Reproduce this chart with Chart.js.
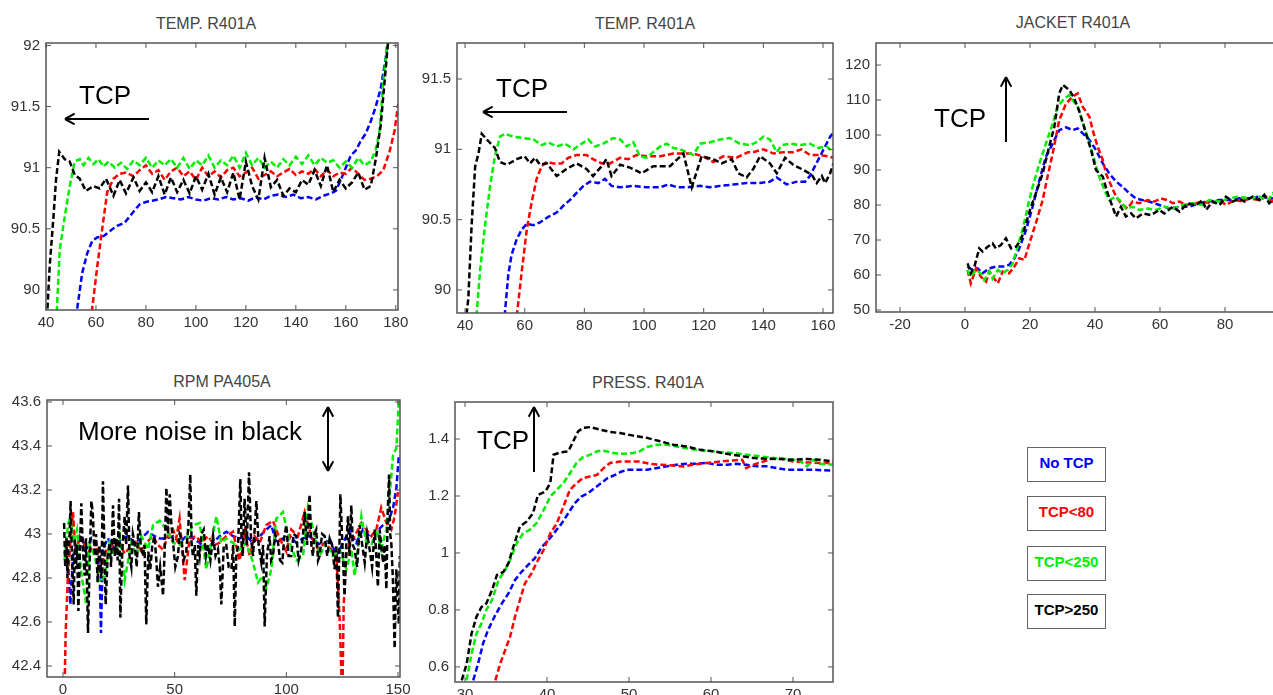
<!DOCTYPE html>
<html>
<head>
<meta charset="utf-8">
<script src="https://cdn.jsdelivr.net/npm/chart.js@4.4.1/dist/chart.umd.min.js"></script>
<style>
  html, body { margin: 0; padding: 0; background: #fff; overflow: hidden; width: 1273px; height: 695px; }
  canvas { position: absolute; }
  .title { position: absolute; font: 16px "Liberation Sans", Arial, sans-serif; color: #444; line-height: 1; white-space: nowrap; transform: translateX(-50%); }
  .note { position: absolute; font: 26px "Liberation Sans", Arial, sans-serif; color: #000; line-height: 1; white-space: nowrap; }
  .key { position: absolute; left: 1027px; width: 79px; height: 35px; box-sizing: border-box; border: 1.5px solid #666; background: #fff;
         font: bold 15px "Liberation Sans", Arial, sans-serif; display: flex; align-items: center; justify-content: center; padding-bottom: 4px; }
</style>
</head>
<body>
<div class="title" style="left:206px;top:16px">TEMP. R401A</div>
<div class="title" style="left:645px;top:16px">TEMP. R401A</div>
<div class="title" style="left:1073px;top:15px">JACKET R401A</div>
<div class="title" style="left:222px;top:374px">RPM PA405A</div>
<div class="title" style="left:648px;top:375px">PRESS. R401A</div>

<canvas id="temp1" width="418" height="308" style="left:0px;top:27px"></canvas>
<canvas id="temp2" width="438" height="311" style="left:410px;top:27px"></canvas>
<canvas id="jacket" width="470" height="310" style="left:840px;top:27px"></canvas>
<canvas id="rpm" width="420" height="318" style="left:0px;top:384px"></canvas>
<canvas id="press" width="438" height="321" style="left:410px;top:386px"></canvas>

<div class="note" style="left:79px;top:82px">TCP</div>
<div class="note" style="left:496px;top:75px">TCP</div>
<div class="note" style="left:934px;top:105px">TCP</div>
<div class="note" style="left:78px;top:418px">More noise in black</div>
<div class="note" style="left:477px;top:427px">TCP</div>

<div id="keys"></div>

<script>
// legend entries, same order as the curves
const seriesNames = ['No TCP', 'TCP<80', 'TCP<250', 'TCP>250']
const seriesColors = ['#0000ff', '#ff0000', '#00ee00', '#000000']

// ---- TEMP. R401A (top left), [x, y]
const temp1Blue = [[52,89.7],[52.5,89.85],[54.5,90.14],[56.5,90.3],[58.5,90.4],[60.5,90.43],[63,90.44],[65.5,90.48],[68,90.52],[71.5,90.55],[75,90.64],[77.5,90.7],[80,90.72],[82.5,90.73],[85,90.74],[88,90.76],[91,90.75],[94,90.74],[97,90.76],[100,90.74],[103,90.73],[106,90.75],[109,90.74],[112,90.76],[115,90.74],[118,90.75],[121,90.73],[124,90.76],[127,90.74],[130,90.77],[133,90.78],[136,90.76],[139,90.78],[142,90.75],[145,90.76],[148,90.74],[151,90.77],[154,90.79],[156,90.81],[158,90.9],[160,91.0],[162,91.1],[164,91.14],[166,91.22],[168,91.28],[170,91.38],[172,91.5],[174,91.65],[176,91.9],[178,92.2]]
const temp1Red = [[57.8,89.6],[58.5,89.85],[60.5,90.19],[62.5,90.5],[64.5,90.8],[67,90.91],[69.5,90.95],[72,90.96],[75,90.93],[77.5,90.98],[80,91.02],[82.5,90.95],[85,90.98],[87.5,90.9],[90,90.97],[92.5,91.0],[95,90.93],[97.5,90.97],[100,90.9],[102.5,91.0],[105,90.93],[107.5,90.97],[110,90.92],[112.5,90.98],[115,91.0],[117.5,90.93],[120,90.96],[122.5,91.0],[125,90.91],[127.5,90.94],[130,90.97],[132.5,90.93],[135,90.96],[137.5,90.99],[140,90.94],[142.5,90.97],[145,90.95],[147.5,90.99],[150,90.93],[152.5,90.98],[155,90.93],[157.5,90.96],[160,90.95],[162.5,91.0],[165,90.95],[167.5,90.9],[170,90.91],[172.5,90.93],[175,90.98],[177.5,91.13],[179.5,91.3],[181,91.52]]
const temp1Green = [[43.8,89.6],[44.5,89.9],[45.5,90.33],[47.5,90.6],[49.5,90.85],[51.5,91.05],[53.5,91.07],[55,91.02],[57,91.08],[59,91.03],[61,91.07],[63,91.01],[65,91.05],[67.5,91.0],[70,91.04],[72.5,90.99],[75,91.06],[77.5,91.02],[80,91.08],[82.5,91.0],[85,91.06],[87.5,91.02],[90,91.07],[92.5,91.0],[95,91.08],[97.5,90.99],[100,91.06],[102.5,91.02],[105,91.1],[107.5,91.0],[110,91.06],[112.5,91.02],[115,91.1],[117.5,91.0],[120,91.12],[122.5,91.02],[125,91.08],[127.5,91.0],[130,91.05],[132.5,91.0],[135,91.07],[137.5,91.02],[140,91.09],[142.5,91.03],[145,91.1],[147.5,91.02],[150,91.08],[152.5,91.04],[155,91.06],[157.5,91.0],[160,91.05],[162.5,91.0],[165,91.08],[167.5,91.02],[170,91.05],[172,91.15],[173.5,91.3],[175,91.7],[176.5,92.0],[178,92.5]]
const temp1Black = [[40.2,89.7],[41.5,90.2],[43,90.6],[44,90.9],[45.3,91.13],[47.5,91.07],[49.5,91.05],[51.5,90.94],[53.5,90.91],[56,90.81],[59,90.85],[61.5,90.83],[64,90.91],[67,90.77],[69.5,90.9],[72,90.79],[75,90.92],[77.5,90.81],[80,90.88],[82.5,90.8],[85,90.93],[87.5,90.78],[90,90.92],[92.5,90.8],[95,90.9],[97.5,90.79],[100,90.93],[102.5,90.82],[105,90.95],[107.5,90.78],[110,90.92],[112.5,90.8],[115,90.96],[117.5,90.74],[120,91.05],[122.5,90.85],[125,90.74],[127.5,91.08],[130,90.84],[132.5,90.9],[135,90.77],[137.5,90.83],[140,90.8],[142.5,90.9],[145,90.86],[147.5,90.98],[150,90.85],[152.5,91.02],[155,90.8],[157.5,90.9],[160,90.83],[162.5,90.88],[165,90.96],[167.5,90.82],[170,90.85],[172,91.07],[174,91.35],[175.5,91.7],[177,92.05],[179,92.6]]
const temp1XTicks = [40, 60, 80, 100, 120, 140, 160, 180]
const temp1YTicks = [90, 90.5, 91, 91.5, 92]

// ---- TEMP. R401A (top middle)
const temp2Blue = [[53,89.75],[54.5,90.11],[55.6,90.25],[57.3,90.36],[59,90.43],[60.7,90.47],[62.9,90.46],[65.1,90.48],[67.9,90.52],[70.7,90.55],[73,90.6],[75.2,90.64],[77.4,90.69],[79.7,90.74],[81.9,90.77],[84.7,90.76],[86.9,90.79],[89.1,90.74],[92,90.73],[96.4,90.74],[100.9,90.73],[105.4,90.73],[108.2,90.75],[111,90.73],[114.3,90.73],[118.8,90.74],[122.1,90.73],[125.5,90.74],[130,90.75],[134.4,90.76],[138.9,90.76],[142.2,90.77],[144.5,90.8],[147.8,90.75],[151.2,90.77],[154,90.77],[155.6,90.81],[157.3,90.88],[159,90.95],[160.7,91.02],[162.4,91.09],[163.5,91.12]]
const temp2Red = [[57,89.75],[59,90.13],[60.7,90.43],[62.3,90.62],[64,90.79],[65.7,90.88],[67.4,90.91],[69.6,90.9],[72.4,90.9],[74.6,90.94],[77.4,90.96],[80.7,90.96],[82.9,90.93],[85.8,90.9],[88.6,90.9],[92,90.94],[94.7,90.93],[97.5,90.96],[100.9,90.95],[105.4,90.95],[109.8,90.97],[113.2,90.97],[116.5,90.97],[119.8,90.95],[123.2,90.91],[126.5,90.95],[131,90.94],[134.9,90.98],[136.6,90.98],[140,91.0],[143.4,90.97],[146.7,90.98],[150,90.98],[152.8,91.0],[155.6,90.96],[158.9,90.96],[161.7,90.95],[163.5,90.94]]
const temp2Green = [[43.6,89.75],[45,90.13],[46.7,90.46],[48.4,90.74],[50,90.95],[51.7,91.09],[53.4,91.11],[56.2,91.09],[59.5,91.08],[62.9,91.07],[65.7,91.03],[67.9,91.05],[70.7,91.02],[73.5,91.04],[76.4,91.0],[79.1,91.04],[81.3,91.07],[83.6,91.02],[86.3,91.04],[89.7,91.08],[92,91.07],[94.2,91.02],[96.4,91.05],[98.6,90.95],[100.9,90.94],[103.1,90.98],[105.4,91.02],[107.6,91.04],[109.8,91.01],[112.1,91.0],[114.3,90.98],[116.5,90.96],[118.8,91.04],[122.1,91.05],[125.5,91.07],[128.8,91.08],[132.1,91.04],[135.5,91.03],[137.7,91.05],[140,91.09],[142.2,91.07],[144.5,90.98],[146.2,91.03],[149,91.04],[152.3,91.03],[155.6,91.04],[158.4,91.01],[161.2,91.02],[163.5,90.98]]
const temp2Black = [[39.8,89.7],[41.1,89.94],[42.2,90.46],[43.4,90.88],[44.5,90.97],[45.6,91.11],[47.3,91.07],[50,91.01],[51.7,90.91],[54,90.89],[57.3,90.93],[60,90.95],[61.8,90.9],[63.5,90.94],[65.1,90.89],[67.4,90.9],[70.7,90.81],[74,90.86],[77.4,90.9],[80.7,90.86],[82.9,90.81],[85.8,90.88],[87.4,90.93],[89.1,90.81],[92,90.89],[95.3,90.87],[99.2,90.83],[103.1,90.88],[108.7,90.88],[113.2,90.97],[116,90.73],[119.3,90.95],[123.2,90.93],[126,90.9],[129.4,90.93],[131.6,90.83],[134.4,90.8],[136.6,90.86],[138.9,90.95],[142.2,90.9],[144.5,90.83],[147.3,90.94],[150,90.89],[152.8,90.86],[156.2,90.82],[157.9,90.76],[159.6,90.81],[160.7,90.76],[162.4,90.83],[163.5,90.9]]
const temp2XTicks = [40, 60, 80, 100, 120, 140, 160]
const temp2YTicks = [90, 90.5, 91, 91.5]

// ---- JACKET R401A (top right)
const jacketBlue = [[0.8,62.4],[2.4,61.4],[3.9,61.9],[5.4,60.5],[7.5,61.9],[9.5,62.4],[11.6,62.4],[13.6,62.9],[15.2,64.8],[16.7,67.6],[18.8,72.9],[20.8,79.5],[22.9,87.1],[24.9,93.8],[27,97.6],[29,101.4],[31.1,102.2],[33.1,101.4],[34.7,101.9],[36.2,100.5],[38.3,98.6],[40.3,95.7],[42.4,91.9],[44.4,89],[46.5,86.7],[48.5,85.2],[50.6,83.3],[52.6,81.9],[54.7,81.4],[56.7,81],[59.8,80],[62.9,79],[66,79.5],[69,79.5],[72.1,80.5],[75.2,81],[78.3,81.4],[81.3,81.4],[84.4,81.9],[87.5,81.9],[90.6,82.4],[94.7,81.9],[96,82]]
const jacketRed = [[0.8,61.4],[1.8,57.6],[3.4,61.9],[4.9,59.5],[6.5,58.1],[7.5,61],[9,59],[10.1,57.6],[11.6,61],[13.6,60.5],[15.2,62.4],[16.7,64.8],[18.3,64.3],[19.8,69],[21.8,74.8],[23.9,81.4],[25.4,88.1],[27,94.8],[29,104.3],[31.1,109],[33.1,111],[34.7,111.9],[36.2,108.1],[38.3,105.2],[39.3,101.4],[40.8,96.7],[42.4,92.9],[43.4,89],[44.9,85.7],[46.5,82.4],[48,80.5],[50,79],[51.6,81],[53.6,80.5],[56.2,81.4],[58.3,81],[60.3,81.9],[62.4,81.4],[63.9,80.5],[66,81],[68,80],[71.1,80.5],[73.1,81],[75.7,80.5],[78.3,81.4],[80.3,80],[82.9,81.4],[85.4,81],[87.5,81.9],[90.6,81.4],[92.6,82.4],[94.7,81],[96,81.5]]
const jacketGreen = [[0.8,61.4],[1.8,59.5],[3.4,61.4],[4.9,60.5],[5.9,58.6],[7.5,61],[8.5,59],[10.1,61.4],[11.6,60.5],[13.1,61.4],[14.7,63.3],[16.2,68.1],[17.7,72.9],[19.3,79.5],[20.8,85.2],[22.9,91.9],[24.9,97.6],[27,103.3],[28.5,108.1],[30.6,110.5],[32.1,111.4],[33.1,110],[34.7,108.1],[36.7,102.4],[38.3,97.6],[39.8,92.9],[41.3,88.1],[42.9,84.3],[44.4,81.4],[46.5,82.4],[48,81],[49.5,79],[51.6,79.5],[53.6,78.6],[56.2,79],[58.8,78.6],[61.3,79.5],[63.9,79],[67,80],[70.1,80.5],[73.1,80],[75.1,81.4],[78.3,81],[81.3,81.9],[84.4,82.4],[87.5,81.9],[90.6,82.4],[93.2,81.4],[94.7,83.3],[96,82.5]]
const jacketBlack = [[0.8,63.3],[1.8,60.5],[2.9,62.4],[4.4,67.6],[5.4,66.7],[7,68.1],[8.5,69],[9.5,67.6],[11.1,68.6],[12.6,70.5],[14.2,67.6],[15.7,68.1],[17.2,70],[18.8,74.8],[20.3,79.5],[21.8,83.3],[23.9,89],[25.9,96.7],[27.5,102.4],[29,111.9],[30.1,114.3],[32.1,112.9],[33.6,110.5],[35.2,106.7],[37.2,100.5],[38.8,95.7],[40.3,90],[42.4,88.1],[43.9,83.3],[45.4,79.5],[46.5,76.7],[48,79.5],[49.5,76.7],[51.1,77.6],[52.6,76.2],[54.7,77.6],[57.2,77.1],[59.8,78.6],[61.3,77.6],[63.9,79.5],[66,78.1],[68.5,80.5],[71.1,80],[73.1,81.4],[74.2,78.6],[76.2,81],[78.3,80],[80.3,82.4],[82.4,81],[84.4,81.9],[86,81],[88.5,82.4],[90.6,81.4],[92.1,82.9],[93.6,80.5],[94.7,81.4],[96,82]]
const jacketXTicks = [-20, 0, 20, 40, 60, 80, 100]
const jacketYTicks = [50, 60, 70, 80, 90, 100, 110, 120]

// ---- RPM PA405A (bottom left)
const rpmBlue = [[0.7,42.92],[2.2,42.87],[3.3,42.68],[4.5,42.9],[6.3,42.96],[8.2,42.99],[10.4,42.93],[12.7,42.98],[14.9,42.95],[16.4,42.84],[17,42.55],[17.9,42.93],[20.1,42.98],[23.1,42.93],[26.1,42.98],[29.1,42.99],[32.1,42.96],[35.1,42.98],[38.1,43.01],[41,42.99],[43.3,42.98],[46.3,42.98],[49.3,42.99],[52.2,42.96],[55.2,42.99],[58.2,42.98],[61.2,42.96],[64.2,42.93],[67.2,42.96],[70.1,42.99],[73.1,43.01],[76.1,42.99],[79.1,42.98],[82.1,42.99],[85.1,42.96],[88.1,42.99],[91,43.02],[93.3,43.04],[95.5,42.96],[98.5,42.98],[101.5,42.99],[104.5,42.96],[107.5,42.98],[110.4,42.99],[113.4,42.96],[116.4,42.95],[119.4,42.98],[122.4,42.9],[125.4,42.96],[128.4,43.02],[131.3,42.96],[134.3,43.02],[137.3,42.99],[140.3,43.01],[143.3,43.04],[145.5,43.05],[147.8,43.12],[149.3,43.21],[150.4,43.36]]
const rpmRed = [[0.5,42.2],[1.2,42.55],[2.2,42.81],[3.3,42.96],[4.5,43.1],[5.7,42.9],[7.5,42.99],[9.7,42.95],[11.9,42.92],[14.9,42.96],[17.2,42.84],[19.4,42.93],[22.4,42.95],[25.4,42.96],[27.6,42.91],[30.6,42.95],[32.8,42.96],[35.1,42.92],[37.3,42.96],[40.3,42.99],[42.5,42.95],[44.8,42.93],[47,42.99],[49.3,43.02],[50.7,42.98],[52.2,43.07],[54.5,42.79],[56.7,42.98],[59.7,42.99],[61.9,42.96],[64.9,42.99],[67.9,42.95],[70.1,42.96],[73.1,42.99],[76.1,43.01],[79.1,42.88],[81.3,43.01],[83.6,42.9],[85.8,42.99],[88.1,42.96],[91,43.04],[94,43.06],[97,42.98],[100,42.92],[102.2,43.02],[105.2,42.99],[108.2,43.1],[111.2,42.99],[114.2,42.93],[117.2,42.96],[120.1,42.93],[122.4,42.9],[123.9,42.61],[124.6,42.38],[125.1,42.25],[125.7,42.68],[126.9,42.9],[128.4,42.96],[130.6,42.99],[133.6,43.05],[135.8,43.02],[138.1,42.99],[140.3,43.02],[142.5,43.12],[144.8,43.05],[147,43.02],[148.5,43.08],[150,43.19]]
const rpmGreen = [[0.7,42.88],[2.2,43.04],[3.3,43.08],[4.8,42.96],[6.3,43.02],[8.2,42.82],[10.4,42.68],[11.9,42.95],[14.2,42.9],[16.4,42.78],[18.7,42.81],[20.9,42.96],[23.1,42.9],[25.4,42.99],[27.6,42.79],[30.6,42.96],[32.8,42.9],[35.1,42.99],[38.1,42.93],[40.3,43.04],[43.3,43.06],[46.3,43.02],[49.3,42.96],[52.2,42.95],[55.2,42.98],[58.2,43.04],[61.2,43.05],[64.2,42.84],[66.4,42.96],[68.7,43.08],[70.9,42.96],[73.1,42.98],[76.1,42.96],[79.1,42.93],[82.1,42.96],[85.1,42.87],[87.3,42.78],[89.6,42.81],[91,42.75],[93.3,42.84],[95.5,43.07],[98.5,43.1],[101.5,42.96],[104.5,42.88],[107.5,42.9],[109.7,43.12],[112.7,42.99],[114.9,42.9],[117.9,42.96],[120.9,42.9],[123.9,42.93],[126.9,42.84],[129.1,42.93],[130.6,42.81],[133.6,43.08],[135.8,42.96],[138.1,42.95],[140.3,43.02],[142.5,42.93],[144.8,43.02],[146.3,43.18],[147.8,43.36],[149.3,43.39],[150.4,43.62]]
const rpmBlack = [[0.5,43.05],[1,42.85],[1.5,42.98],[2,42.8],[2.5,42.95],[3,43.0],[3.4,43.15],[4,42.9],[4.8,42.68],[5.3,42.98],[5.8,42.84],[6.3,42.95],[6.9,42.65],[7.5,42.9],[8.2,43.14],[8.8,42.95],[9.7,42.81],[10.3,42.98],[11.2,42.55],[12,42.9],[12.7,43.15],[13.3,43.1],[14.2,42.9],[14.8,43.0],[15.5,42.78],[16.3,42.95],[17.2,42.8],[17.9,43.24],[18.5,42.95],[19.1,42.68],[20,42.9],[20.9,42.96],[21.5,42.85],[22.4,43.13],[23.2,42.9],[23.9,42.98],[24.5,42.88],[25.1,43.16],[25.7,42.62],[26.5,42.92],[27.6,43.08],[28.3,42.95],[29.1,43.22],[29.8,42.9],[30.6,42.85],[31.3,43.0],[32.1,42.96],[33,42.85],[34,43.1],[34.8,42.95],[35.8,42.9],[36.5,42.95],[37.3,42.59],[38.2,42.92],[39.1,42.84],[40,42.95],[41,42.99],[41.8,42.88],[42.5,42.76],[43.5,42.85],[44.8,42.72],[45.6,42.95],[46.3,43.21],[47,43.0],[47.8,43.18],[48.5,43.05],[49.3,42.96],[50.3,42.85],[51.5,42.9],[52.2,43.0],[53,42.98],[54,42.88],[55.2,42.92],[56.2,43.05],[57,43.27],[57.6,42.95],[58.2,42.9],[59,42.95],[59.7,42.72],[60.5,42.95],[61.2,42.9],[62,43.0],[63,43.02],[64,42.9],[64.9,42.95],[66,42.88],[67.2,42.99],[68.3,42.9],[69.4,42.93],[70.2,42.85],[70.9,42.68],[72,42.95],[73.1,42.95],[74.2,42.85],[75.4,42.84],[76.2,42.95],[76.9,42.58],[77.6,42.9],[78.4,42.95],[79.4,43.25],[80,42.95],[80.5,42.9],[81.3,43.16],[82.3,42.95],[83.3,43.28],[84.2,42.98],[85.1,42.9],[86,43.05],[86.6,43.15],[87.6,42.95],[88.8,42.87],[89.6,42.95],[90.3,42.58],[91.3,42.9],[92.5,42.99],[93.2,42.88],[94,42.9],[95,43.0],[96.3,42.96],[97.2,42.88],[98.2,42.87],[99,42.98],[100,43.04],[101,42.9],[102.2,42.9],[103.3,43.0],[104.5,42.99],[105.5,42.88],[106.7,42.93],[107.5,43.0],[108.2,43.1],[109.3,42.95],[110.4,43.18],[111.2,42.95],[111.9,42.9],[112.6,43.0],[113.4,43.02],[114.2,42.88],[114.9,42.9],[116,43.0],[117.2,42.99],[118.3,42.9],[119.4,42.98],[120.5,42.95],[121.6,42.84],[122.4,42.95],[123.1,42.62],[123.7,42.9],[124.2,43.18],[125.1,42.95],[126.1,42.72],[126.8,42.95],[127.6,43.08],[128.3,42.9],[129.1,43.13],[129.8,42.95],[130.6,42.93],[131.7,42.85],[132.8,43.04],[134,42.95],[135.1,42.87],[136.2,43.0],[137.3,42.93],[138.4,42.85],[139.6,43.02],[140.3,42.9],[141,42.76],[141.8,43.02],[142.5,42.95],[143.3,42.87],[144,42.95],[144.8,42.75],[145.4,43.1],[146,43.27],[146.5,43.0],[147,42.96],[147.7,42.8],[148.5,42.48],[148.9,42.7],[149.3,42.84],[149.8,42.7],[150.4,42.59],[150.8,42.9]]
const rpmXTicks = [0, 50, 100, 150]
const rpmYTicks = [42.4, 42.6, 42.8, 43, 43.2, 43.4, 43.6]

// ---- PRESS. R401A (bottom middle)
const pressBlue = [[31,0.553],[31.6,0.612],[32.2,0.682],[32.8,0.729],[33.7,0.782],[34.5,0.823],[35.3,0.858],[36.1,0.905],[36.9,0.934],[37.7,0.958],[38.5,0.981],[39.4,1.022],[40.2,1.046],[41,1.075],[41.8,1.104],[42.6,1.14],[43.4,1.175],[44.2,1.198],[45,1.21],[45.8,1.228],[46.6,1.245],[47.4,1.263],[48.3,1.274],[49.1,1.286],[49.9,1.292],[50.9,1.292],[52.2,1.292],[53.4,1.298],[54.6,1.304],[55.8,1.31],[57,1.313],[58.2,1.313],[59.5,1.316],[60.7,1.31],[61.9,1.31],[63.1,1.313],[64.3,1.31],[65.6,1.304],[66.8,1.304],[68,1.298],[69.2,1.292],[70.8,1.292],[72.5,1.292],[74.9,1.289]]
const pressRed = [[33.7,0.553],[34.3,0.612],[34.9,0.659],[35.5,0.706],[36.1,0.776],[36.7,0.835],[37.3,0.893],[38.1,0.928],[38.7,0.964],[39.6,1.011],[40.4,1.069],[41.2,1.104],[42,1.163],[42.8,1.222],[43.6,1.245],[44.4,1.263],[45.3,1.269],[46.1,1.274],[46.9,1.298],[47.7,1.316],[48.9,1.321],[50.1,1.321],[51.3,1.321],[52.5,1.313],[53.8,1.31],[55.4,1.307],[56.6,1.304],[57.8,1.31],[59.5,1.316],[61.1,1.321],[62.7,1.325],[63.8,1.327],[64.3,1.298],[65.2,1.31],[66.4,1.321],[67.6,1.333],[68.8,1.33],[70,1.321],[71.7,1.318],[73.3,1.316],[74.9,1.316]]
const pressGreen = [[30.2,0.553],[30.8,0.647],[31.4,0.717],[32,0.752],[32.6,0.8],[33.3,0.835],[34.1,0.905],[34.9,0.94],[35.5,0.975],[36.3,1.034],[37.1,1.069],[37.9,1.081],[38.7,1.104],[39.6,1.151],[40.4,1.198],[41.2,1.222],[42,1.245],[42.8,1.28],[43.6,1.316],[44.4,1.337],[45.3,1.345],[46.1,1.357],[46.9,1.359],[48.1,1.351],[49.3,1.348],[50.5,1.351],[51.3,1.357],[52.2,1.372],[53.4,1.38],[54.6,1.38],[55.8,1.374],[57,1.368],[58.2,1.362],[59.5,1.359],[61.1,1.354],[62.7,1.351],[64.3,1.345],[66,1.339],[67.6,1.333],[69.2,1.33],[70.8,1.325],[71.7,1.304],[72.5,1.327],[73.3,1.313],[74.9,1.31]]
const pressBlack = [[29.6,0.553],[30.2,0.61],[30.8,0.717],[31.4,0.776],[32,0.81],[32.6,0.823],[33.3,0.87],[33.9,0.923],[34.7,0.934],[35.3,0.964],[35.9,1.022],[36.7,1.093],[37.5,1.11],[38.3,1.14],[38.9,1.204],[39.8,1.216],[40.4,1.245],[40.8,1.345],[41.6,1.353],[42.6,1.357],[43.2,1.392],[43.8,1.427],[44.4,1.439],[45.3,1.442],[46.5,1.433],[47.7,1.425],[48.9,1.421],[50.5,1.412],[52.2,1.404],[53.8,1.392],[55.4,1.38],[57,1.374],[58.7,1.362],[60.3,1.357],[61.9,1.348],[63.5,1.341],[65.2,1.333],[66.8,1.331],[68.4,1.33],[70,1.327],[71.7,1.33],[73.3,1.327],[74.9,1.321]]
const pressXTicks = [30, 40, 50, 60, 70]
const pressYTicks = [0.6, 0.8, 1, 1.2, 1.4]

const FONT = '"Liberation Sans", Arial, sans-serif'
Chart.defaults.font.family = FONT

// box frame, inward ticks on all sides, and the annotation arrows
const framePlugin = {
    id: 'frame',
    afterDatasetsDraw(chart, args, opts) {
        const { ctx, chartArea: a, scales: { x, y } } = chart
        ctx.save()
        ctx.strokeStyle = '#555'
        ctx.lineWidth = 1.5
        ctx.strokeRect(a.left, a.top, a.right - a.left, a.bottom - a.top)
        ctx.lineWidth = 1
        ctx.beginPath()
        x.ticks.forEach(t => {
            const px = x.getPixelForValue(t.value)
            ctx.moveTo(px, a.bottom); ctx.lineTo(px, a.bottom - 5)
            ctx.moveTo(px, a.top); ctx.lineTo(px, a.top + 5)
        })
        y.ticks.forEach(t => {
            const py = y.getPixelForValue(t.value)
            ctx.moveTo(a.left, py); ctx.lineTo(a.left + 5, py)
            ctx.moveTo(a.right, py); ctx.lineTo(a.right - 5, py)
        })
        ctx.stroke()

        const ox = chart.canvas.offsetLeft, oy = chart.canvas.offsetTop
        ctx.strokeStyle = '#000'
        ctx.lineWidth = 2
        ;(opts.arrows || []).forEach(ar => {
            const x1 = ar.from[0] - ox, y1 = ar.from[1] - oy
            const x2 = ar.to[0] - ox, y2 = ar.to[1] - oy
            ctx.beginPath()
            ctx.moveTo(x1, y1); ctx.lineTo(x2, y2)
            const heads = ar.both ? [[x2, y2, x1, y1], [x1, y1, x2, y2]] : [[x2, y2, x1, y1]]
            heads.forEach(([tx, ty, sx, sy]) => {
                const ang = Math.atan2(ty - sy, tx - sx)
                for (const d of [-0.5, 0.5]) {
                    ctx.moveTo(tx, ty)
                    ctx.lineTo(tx - 11 * Math.cos(ang + d), ty - 11 * Math.sin(ang + d))
                }
            })
            ctx.stroke()
        })
        ctx.restore()
    }
}
Chart.register(framePlugin)

function toPoints(list) {
    return list.map(([x, y]) => ({ x, y }))
}

function axis(min, max, tickValues, size, isX) {
    return {
        type: 'linear',
        min, max,
        afterBuildTicks: s => { s.ticks = tickValues.map(v => ({ value: v })) },
        afterFit: s => { if (isX) s.height = size; else s.width = size },
        grid: { display: false, drawTicks: false },
        border: { display: false },
        ticks: {
            color: '#333',
            font: { size: 15, family: FONT },
            padding: isX ? 4 : 6,
            autoSkip: false,
            maxRotation: 0,
            callback: v => String(v)
        }
    }
}

// curves drawn black on top, then green, red, blue
function renderPanel(id, series, xr, yr, xTicks, yTicks, box, arrows) {
    const order = [3, 2, 1, 0]
    new Chart(document.getElementById(id).getContext('2d'), {
        type: 'line',
        data: {
            datasets: order.map(i => ({
                label: seriesNames[i],
                data: toPoints(series[i]),
                borderColor: seriesColors[i],
                borderWidth: 2.5,
                borderDash: [6, 3],
                pointRadius: 0,
                tension: 0,
                fill: false,
                clip: 0
            }))
        },
        options: {
            responsive: false,
            devicePixelRatio: 1,
            animation: false,
            layout: { padding: { top: box.top, right: box.right, left: 0, bottom: 0 } },
            plugins: {
                legend: { display: false },
                tooltip: { enabled: false },
                frame: { arrows }
            },
            scales: {
                x: axis(xr[0], xr[1], xTicks, box.xH, true),
                y: axis(yr[0], yr[1], yTicks, box.yW, false)
            }
        }
    })
}

renderPanel('temp1', [temp1Blue, temp1Red, temp1Green, temp1Black], [40, 180.9], [89.836, 92.02],
    temp1XTicks, temp1YTicks, { top: 16, right: 20, xH: 25, yW: 46 },
    [{ from: [149, 119], to: [65, 119] }])

renderPanel('temp2', [temp2Blue, temp2Red, temp2Green, temp2Black], [37.3, 163.35], [89.836, 91.756],
    temp2XTicks, temp2YTicks, { top: 16, right: 15, xH: 25, yW: 47 },
    [{ from: [567, 112], to: [483, 112] }])

renderPanel('jacket', [jacketBlue, jacketRed, jacketGreen, jacketBlack], [-27.38, 100], [49.43, 126.3],
    jacketXTicks, jacketYTicks, { top: 16, right: 20, xH: 25, yW: 36 },
    [{ from: [1006, 142], to: [1006, 77] }])

renderPanel('rpm', [rpmBlue, rpmRed, rpmGreen, rpmBlack], [-7.16, 150.9], [42.35, 43.609],
    rpmXTicks, rpmYTicks, { top: 16, right: 20, xH: 25, yW: 47 },
    [{ from: [328, 407], to: [328, 471], both: true }])

renderPanel('press', [pressBlue, pressRed, pressGreen, pressBlack], [28.78, 74.88], [0.547, 1.53],
    pressXTicks, pressYTicks, { top: 16, right: 15, xH: 25, yW: 45 },
    [{ from: [534, 472], to: [534, 407] }])

// legend boxes on the right
const keyTops = [447, 496, 546, 594]
const keys = document.getElementById('keys')
seriesNames.forEach((name, i) => {
    const d = document.createElement('div')
    d.className = 'key'
    d.style.top = keyTops[i] + 'px'
    d.style.color = seriesColors[i]
    d.textContent = name
    keys.appendChild(d)
})
</script>
</body>
</html>
